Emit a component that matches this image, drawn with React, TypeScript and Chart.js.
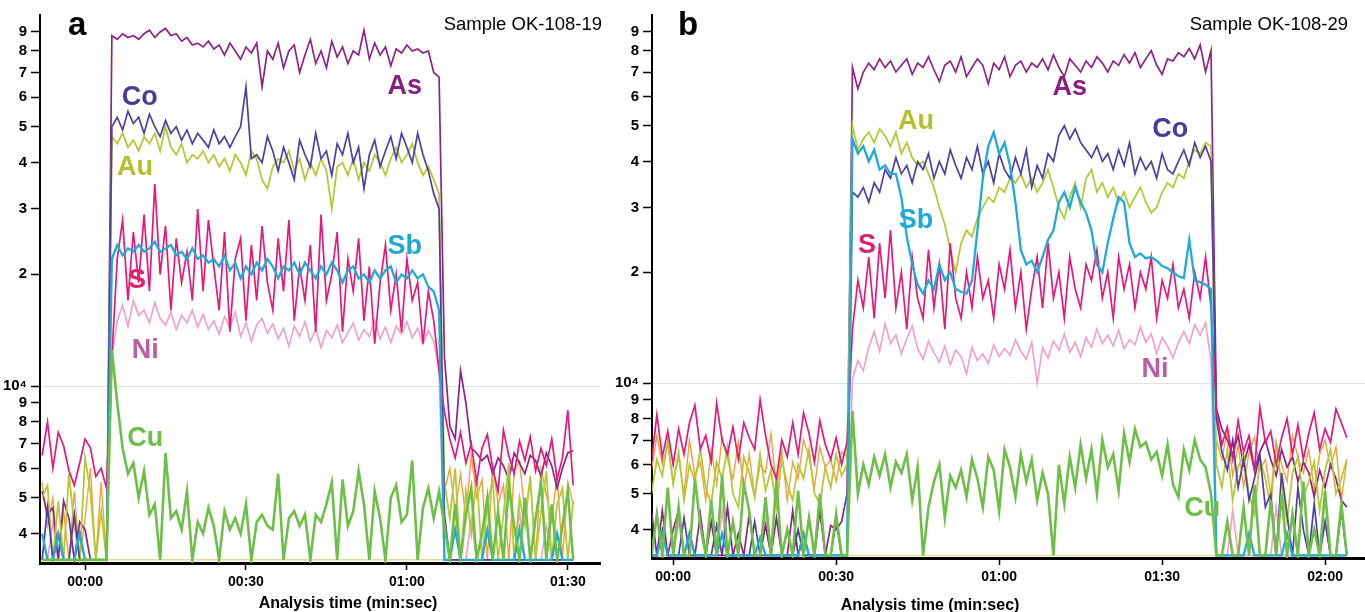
import React, { useEffect, useRef } from 'react';
import { Chart, registerables } from 'chart.js';

Chart.register(...registerables);

// ---------- axes (signal in thousands of counts, time in seconds) ----------
const yTickValues = [4, 5, 6, 7, 8, 9, 10, 20, 30, 40, 50, 60, 70, 80, 90];
const yTickLabels = ['4', '5', '6', '7', '8', '9', '10⁴', '2', '3', '4', '5', '6', '7', '8', '9'];
const xTicksA = [0, 30, 60, 90];
const xTickLabelsA = ['00:00', '00:30', '01:00', '01:30'];
const xTicksB = [0, 30, 60, 90, 120];
const xTickLabelsB = ['00:00', '00:30', '01:00', '01:30', '02:00'];

// one sweep per second
const startA = -8; // pre: -8..4, plateau: 5..66, post: 67..91
const postStartA = 67;
const startB = -4; // pre: -4..32, plateau: 33..99, post: 100..124
const postStartB = 100;
const floorLevel = 3.4;

// ---------- panel a : Sample OK-108-19 ----------
const asA_pre = [5.2, 4.5, 4.7, 3.4, 4.9, 4.4, 3.4, 4.3, 4.1, 3.4, 3.4, 3.4, 3.4];
const asA_plat = [
  88, 86, 89, 87, 88, 86, 89, 91, 87, 90,
  92, 88, 89, 85, 87, 83, 84, 82, 85, 81,
  83, 78, 84, 80, 76, 82, 79, 84, 64, 80,
  76, 84, 72, 80, 83, 70, 78, 86, 74, 80,
  72, 85, 77, 82, 74, 80, 78, 91, 76, 84,
  78, 82, 73, 81, 79, 83, 80, 81, 79, 80,
  70, 68];
const asA_post = [12, 7.8, 7.2, 11, 9, 6.8, 6.6, 6.3, 6.5, 5.8, 6.4, 6.1, 5.6, 6.6, 6.2, 5.8, 6.5, 6.3, 5.7, 6.6, 6.1, 5.3, 6.0, 6.6, 6.7];

const coA_pre = [3.4, 4.7, 3.4, 4.0, 3.4, 3.4, 4.5, 3.4, 3.4, 3.4, 3.4, 3.4, 3.4];
const coA_plat = [
  50, 53, 49, 55, 51, 53, 48, 54, 50, 47,
  52, 48, 50, 46, 49, 45, 48, 46, 44, 49,
  45, 47, 44, 47, 50, 64, 41, 42, 40, 47,
  43, 38, 44, 40, 36, 46, 42, 39, 48, 41,
  43, 37, 45, 42, 48, 40, 44, 34, 42, 46,
  39, 43, 47, 41, 48, 44, 40, 48, 42, 38,
  33, 30];
const coA_post = [4.5, 3.4, 3.4, 3.4, 3.4, 3.4, 3.4, 3.4, 3.4, 3.4, 3.4, 3.4, 3.4, 3.4, 3.4, 3.4, 3.4, 3.4, 3.4, 3.4, 3.4, 3.4, 3.4, 3.4, 3.4];

const auA_pre = [5.0, 5.4, 3.4, 4.9, 3.4, 5.8, 4.2, 3.4, 6.4, 5.2, 3.4, 4.6, 3.4];
const auA_plat = [
  47, 45, 48, 44, 46, 43, 47, 45, 48, 43,
  50, 44, 42, 45, 40, 42, 41, 43, 40, 42,
  39, 41, 38, 42, 40, 37, 43, 41, 36, 34,
  39, 41, 40, 43, 38, 41, 36, 40, 37, 41,
  38, 30, 39, 40, 37, 41, 36, 40, 38, 42,
  40, 37, 41, 44, 40, 42, 45, 40, 37, 39,
  36, 33];
const auA_post = [5.5, 4.4, 6.0, 3.4, 5.2, 4.0, 5.8, 3.4, 4.8, 5.6, 3.4, 4.5, 6.2, 3.4, 5.0, 4.2, 5.7, 3.4, 4.6, 5.9, 3.4, 4.8, 5.3, 3.4, 4.9];

const sbA_pre = [4.0, 3.4, 3.4, 4.0, 3.4, 3.4, 3.4, 4.0, 3.4, 3.4, 3.4, 3.4, 3.4];
const sbA_plat = [
  22, 24, 22.5, 23.5, 23, 24, 23, 23.5, 24.5, 23,
  23.5, 24, 22.5, 23, 22, 23.5, 22, 22.5, 21.5, 22,
  21, 22.5, 20.5, 21.5, 19.5, 21, 20, 21.5, 20.5, 22,
  21, 19.5, 21, 20.5, 21.5, 20, 21.5, 20.5, 19.5, 21,
  20, 21.5, 20.5, 19, 20.5, 21, 19.5, 20, 19, 20.5,
  19.5, 20.5, 21, 19, 20, 19.5, 20.5, 19.5, 20, 18.5,
  18, 16];
const sbA_post = [3.4, 3.4, 4.1, 3.4, 3.4, 3.4, 3.4, 3.4, 4.1, 3.4, 3.4, 3.4, 3.4, 3.4, 4.1, 3.4, 3.4, 3.4, 3.4, 3.4, 3.4, 4.0, 3.4, 3.4, 3.4];

const sA_pre = [6.5, 8.0, 6.0, 7.5, 6.9, 5.9, 5.4, 6.2, 7.2, 6.8, 5.7, 6.0, 5.3];
const sA_plat = [
  12, 22, 28, 17, 26, 19, 29, 18, 35, 20,
  27, 16, 25, 19, 23, 17, 30, 18, 28, 21,
  16, 26, 14, 22, 25, 15, 24, 17, 27, 19,
  16, 25, 18, 28, 15, 21, 17, 24, 14, 29,
  17, 20, 26, 14, 22, 18, 25, 15, 21, 13,
  19, 24, 16, 20, 14, 22, 17, 19, 13, 18,
  15, 11];
const sA_post = [8.5, 7.2, 6.4, 7.5, 6.2, 7.0, 5.5, 6.8, 7.4, 6.0, 5.2, 7.6, 6.5, 5.8, 7.1, 6.3, 7.3, 5.9, 6.8, 6.1, 7.2, 5.6, 6.4, 8.6, 5.4];

const niA_pre = [3.4, 3.4, 4.3, 3.4, 3.4, 3.4, 3.4, 4.0, 3.4, 3.4, 3.4, 3.4, 3.4];
const niA_plat = [
  12, 15, 16.5, 14.5, 17, 15.5, 16, 14.8, 16.8, 15.2,
  14.6, 15.8, 14.2, 15.5, 14.8, 16, 14.4, 15.6, 14.2, 15,
  13.8, 15.4, 14.4, 15.8, 13.6, 14.8, 13.2, 14.6, 15.2, 13.9,
  14.7, 13.4, 14.3, 12.8, 14.5, 13.6, 14.9, 13.2, 14.2, 12.7,
  14.1, 13.5, 14.6, 13.1, 13.9, 14.8, 13.3, 14.2, 13.6, 15,
  13.4, 14.4, 13.1, 14.5, 13.8, 14.9, 13.5, 14.3, 13.0, 14.1,
  13.2, 11];
const niA_post = [3.4, 3.4, 3.4, 3.4, 3.4, 4.4, 3.4, 3.4, 3.4, 3.4, 3.4, 3.4, 3.4, 3.4, 4.6, 3.4, 3.4, 3.4, 3.4, 4.2, 3.4, 3.4, 3.4, 3.4, 3.4];

const cuA_pre = [3.4, 3.4, 3.4, 3.4, 3.4, 3.4, 3.4, 3.4, 3.4, 3.4, 3.4, 3.4, 3.4];
const cuA_plat = [
  12.5, 9, 6.8, 5.8, 6.2, 5.0, 5.9, 4.5, 4.8, 3.4,
  6.6, 4.4, 4.6, 4.1, 5.2, 3.4, 4.3, 4.0, 4.7, 4.2,
  3.4, 4.6, 4.1, 4.4, 4.0, 4.8, 3.4, 4.3, 4.5, 4.2,
  4.1, 5.8, 3.4, 4.4, 4.6, 4.2, 4.5, 3.4, 4.5, 4.3,
  4.8, 5.5, 3.4, 5.6, 4.2, 4.6, 5.9, 4.8, 3.4, 5.2,
  4.4, 3.4, 5.0, 5.4, 4.3, 4.5, 6.3, 3.4, 4.7, 5.3,
  4.4, 5.2];
const cuA_post = [4.2, 3.4, 4.8, 3.4, 4.5, 5.3, 3.4, 4.0, 5.0, 3.4, 4.6, 3.4, 5.4, 4.2, 3.4, 5.0, 3.4, 4.4, 5.5, 3.4, 4.8, 3.4, 4.2, 5.2, 3.4];

const bgA_pre = [5.5, 4.2, 5.0, 3.4, 4.6, 3.4, 5.2, 3.4, 4.4, 6.0, 3.4, 5.5, 3.4];
const bgA_post = [5.2, 6.0, 4.6, 5.8, 4.4, 6.5, 5.0, 5.6, 3.4, 6.2, 4.8, 5.4, 3.4, 5.9, 6.3, 4.5, 5.6, 3.4, 6.0, 5.1, 4.3, 5.8, 3.4, 5.5, 4.8];

// ---------- panel b : Sample OK-108-29 ----------
const asB_pre = [
  4.5, 3.4, 4.5, 3.4, 4.0, 4.5, 3.4, 3.9, 3.4, 4.4,
  3.4, 4.2, 3.4, 3.4, 4.6, 3.4, 3.9, 3.4, 4.4, 3.4,
  3.4, 4.1, 3.4, 4.3, 3.4, 3.4, 4.5, 3.4, 3.9, 3.4,
  3.4, 4.5, 3.4, 4.1, 4.0, 4.2, 5.0];
const asB_plat = [
  72, 63, 70, 74, 71, 76, 72, 75, 70, 73,
  76, 69, 74, 72, 77, 71, 66, 73, 75, 70,
  77, 68, 72, 76, 73, 65, 74, 71, 77, 68,
  73, 75, 70, 74, 72, 76, 71, 78, 72, 68,
  76, 73, 70, 75, 72, 77, 74, 70, 75, 73,
  78, 74, 79, 72, 76, 80, 73, 69, 76, 75,
  79, 77, 81, 76, 83, 70, 80];
const asB_post = [8.5, 7.5, 7.0, 6.4, 7.2, 6.0, 6.8, 5.8, 6.5, 7.0, 6.2, 5.6, 6.6, 5.9, 6.3, 5.4, 6.1, 5.7, 4.9, 5.8, 5.2, 6.0, 5.5, 4.8, 4.6];

const coB_pre = [
  3.4, 3.4, 4.0, 3.4, 3.4, 3.4, 4.3, 3.4, 3.4, 3.4,
  3.4, 3.4, 4.1, 3.4, 3.4, 3.4, 3.4, 3.4, 3.4, 4.2,
  3.4, 3.4, 3.4, 3.4, 3.4, 3.4, 3.4, 4.0, 3.4, 3.4,
  3.4, 3.4, 3.4, 3.4, 4.2, 3.4, 3.4];
const coB_plat = [
  33, 32, 34, 31, 35, 33, 38, 36, 41, 37,
  39, 35, 40, 38, 42, 36, 40, 37, 43, 39,
  36, 41, 38, 44, 37, 40, 35, 42, 38, 36,
  41, 37, 43, 34, 39, 36, 42, 40, 47, 50,
  46, 49, 45, 43, 41, 44, 40, 42, 38, 43,
  39, 45, 37, 41, 38, 40, 36, 42, 38, 37,
  40, 43, 39, 45, 41, 44, 40];
const coB_post = [8.0, 6.5, 5.8, 7.0, 5.2, 6.2, 4.8, 5.5, 6.4, 4.6, 5.0, 3.4, 5.7, 4.4, 3.4, 5.2, 4.0, 3.4, 4.7, 3.4, 4.2, 3.4, 3.4, 4.5, 3.4];

const auB_pre = [
  5.0, 6.2, 5.6, 7.0, 5.3, 6.5, 4.8, 6.0, 5.4, 6.6,
  5.2, 4.7, 6.1, 5.5, 6.7, 5.0, 4.6, 6.3, 5.7, 4.9,
  6.4, 5.1, 5.8, 4.6, 6.2, 5.3, 4.8, 6.0, 5.5, 6.6,
  5.0, 4.7, 5.9, 5.2, 6.4, 5.6, 6.0];
const auB_plat = [
  50, 43, 46, 48, 45, 49, 47, 44, 48, 42,
  45, 41, 39, 40, 37, 34, 30, 27, 23, 20,
  24, 26, 25, 28, 30, 32, 31, 34, 33, 36,
  35, 37, 34, 36, 33, 35, 38, 34, 30, 28,
  32, 35, 30, 36, 38, 33, 35, 32, 34, 31,
  33, 30, 32, 34, 31, 29, 30, 33, 35, 34,
  37, 36, 40, 43, 42, 45, 44];
const auB_post = [6.0, 5.2, 6.6, 4.8, 5.9, 6.4, 5.0, 4.4, 6.2, 5.5, 4.6, 6.8, 5.3, 4.2, 5.7, 6.3, 4.9, 5.4, 6.1, 4.5, 5.8, 6.6, 5.0, 5.5, 6.2];

const sbB_pre = [
  3.4, 3.4, 3.9, 3.4, 3.4, 3.4, 3.4, 3.9, 3.4, 3.4,
  3.4, 3.4, 3.4, 3.9, 3.4, 3.4, 3.4, 3.4, 3.4, 3.4,
  3.8, 3.4, 3.4, 3.4, 3.4, 3.4, 3.4, 3.4, 3.9, 3.4,
  3.4, 3.4, 3.4, 3.4, 3.4, 3.4, 3.4];
const sbB_plat = [
  46, 42, 44, 40, 43, 38, 39, 37, 37, 32,
  25, 21, 18.5, 17.5, 19, 18, 21, 19, 20, 18,
  17.7, 17.5, 19, 26, 36, 44, 48, 42, 45, 39,
  31, 23, 21, 21.5, 20, 22, 24.5, 26, 31, 33,
  30, 34, 31, 29, 26, 21, 20, 24, 28, 32,
  31, 24, 22, 22.5, 21.8, 22, 21.5, 20.8, 20.5, 20,
  19.5, 19.3, 24.5, 19, 18.8, 18.5, 18];
const sbB_post = [3.4, 3.4, 3.4, 3.4, 3.4, 3.4, 3.9, 3.4, 3.4, 3.4, 3.4, 3.4, 3.4, 3.9, 3.4, 3.4, 3.4, 3.4, 3.4, 3.4, 3.4, 3.4, 3.4, 3.4, 3.4];

const sB_pre = [
  6.1, 8.2, 6.3, 7.4, 6.0, 7.5, 6.4, 7.8, 8.7, 6.6,
  7.2, 6.1, 8.8, 7.0, 6.4, 7.6, 6.2, 7.8, 7.1, 6.6,
  9.0, 7.2, 6.0, 5.5, 7.0, 6.3, 7.8, 6.4, 8.3, 7.3,
  6.1, 7.9, 6.8, 6.2, 7.1, 6.0, 6.9];
const sB_plat = [
  14, 19, 16, 22, 15, 24, 17, 26, 16, 20,
  14, 22, 17, 15, 23, 16, 21, 14, 24, 17,
  15, 20, 16, 22, 17, 19, 15, 21, 18, 23,
  16, 20, 14, 18, 22, 16, 24, 17, 20, 15,
  22, 18, 16, 21, 19, 23, 17, 20, 15, 22,
  18, 21, 16, 20, 18, 22, 15, 19, 17, 21,
  16, 18, 15, 20, 17, 22, 16];
const sB_post = [8.4, 6.8, 7.6, 6.2, 7.9, 6.5, 7.2, 5.8, 8.6, 6.9, 7.4, 6.0, 7.1, 8.0, 6.4, 7.7, 6.2, 7.3, 8.3, 6.6, 7.5, 6.9, 8.5, 7.8, 7.1];

const niB_pre = [
  3.4, 4.4, 3.4, 3.4, 3.4, 4.2, 3.4, 3.4, 3.4, 3.4,
  3.4, 3.4, 3.4, 4.5, 3.4, 3.4, 3.4, 3.4, 3.4, 3.4,
  3.4, 4.3, 3.4, 3.4, 3.4, 3.4, 3.4, 3.4, 3.4, 3.4,
  3.4, 4.6, 3.4, 3.4, 3.4, 3.4, 3.4];
const niB_plat = [
  10.3, 11.5, 10.8, 12.5, 13.8, 12.2, 14.5, 12.8, 13.5, 12.0,
  13.2, 14.3, 12.4, 11.6, 13.0, 12.1, 11.4, 12.6, 11.2, 12.3,
  11.8, 10.6, 12.5, 11.5, 12.0, 11.3, 12.7, 11.8, 12.4, 11.9,
  13.1, 12.2, 11.6, 12.9, 10.0, 12.5, 11.7, 13.0, 12.3, 13.6,
  12.1, 12.9, 11.8, 13.3, 12.5, 14.0, 12.8, 13.5, 12.6, 13.9,
  12.4, 13.1, 12.7, 14.2, 12.9, 13.6, 12.0, 13.3, 12.6, 11.7,
  12.9, 13.8, 12.8, 14.4, 13.5, 14.6, 11.5];
const niB_post = [3.4, 3.4, 3.4, 4.5, 3.4, 3.4, 3.4, 3.4, 3.4, 3.4, 3.4, 4.6, 3.4, 3.4, 3.4, 3.4, 3.4, 3.4, 3.4, 3.4, 4.2, 3.4, 3.4, 3.4, 3.4];

const cuB_pre = [
  3.4, 4.4, 3.4, 5.2, 3.4, 4.6, 3.4, 3.4, 5.5, 4.1,
  3.4, 4.8, 3.4, 5.6, 3.4, 4.2, 3.4, 5.3, 4.5, 3.4,
  3.4, 4.9, 3.4, 5.4, 3.4, 4.0, 3.4, 5.1, 3.4, 4.3,
  3.4, 5.0, 3.4, 3.4, 4.4, 3.4, 3.4];
const cuB_plat = [
  8.4, 5.0, 6.0, 5.3, 6.3, 5.6, 6.4, 5.2, 6.1, 5.7,
  6.4, 4.8, 5.9, 3.4, 4.6, 5.4, 6.0, 4.3, 5.6, 5.2,
  5.8, 4.9, 6.2, 5.5, 4.6, 6.3, 5.8, 4.5, 6.6, 5.9,
  4.9, 6.4, 5.4, 6.2, 4.8, 5.7, 5.0, 3.4, 6.0, 4.7,
  6.3, 5.2, 6.8, 5.5, 6.6, 5.0, 7.0, 5.9, 6.4, 5.1,
  7.3, 6.1, 7.5, 6.7, 6.9, 6.2, 6.5, 5.6, 6.8, 5.3,
  4.9, 6.6, 5.8, 7.0, 6.2, 5.9, 5.0];
const cuB_post = [3.4, 3.4, 4.2, 3.4, 3.4, 4.6, 3.4, 5.3, 3.4, 3.4, 4.8, 3.4, 5.0, 3.4, 4.4, 3.4, 5.4, 3.4, 4.0, 3.4, 5.1, 3.4, 3.4, 4.7, 3.4];

const bgB_pre = [
  5.8, 7.2, 6.0, 6.8, 5.4, 6.3, 5.0, 7.0, 5.6, 6.1,
  4.8, 6.6, 5.3, 7.1, 6.2, 5.5, 6.9, 5.1, 6.4, 4.9,
  6.0, 5.7, 7.3, 5.2, 6.5, 4.8, 6.1, 5.5, 7.0, 6.3,
  5.2, 6.7, 5.9, 6.2, 5.4, 6.5, 6.3];
const bgB_post = [7.0, 6.2, 7.4, 5.6, 6.8, 5.2, 6.5, 7.1, 5.8, 6.2, 5.0, 6.9, 6.0, 5.4, 7.2, 6.3, 5.7, 6.6, 5.1, 6.4, 7.0, 5.9, 6.7, 4.8, 6.2];

// ---------- element labels (anchor in data coordinates: seconds, thousands of counts) ----------
const labelNames = ['As', 'Co', 'Au', 'Sb', 'S', 'Ni', 'Cu'];
const labelTimeA = [59.6, 10.2, 9.3, 59.6, 9.7, 11.2, 11.2];
const labelValueA = [64, 60, 38.7, 23.7, 19.3, 12.5, 7.2];
const labelTimeB = [73.0, 91.5, 44.7, 44.7, 35.7, 88.7, 97.4];
const labelValueB = [63.7, 48.7, 51.5, 27.7, 23.6, 10.9, 4.57];

// ---------- styles ----------
const lineColor: Record<string, string> = {
  As: '#8E2387', Co: '#4F3FA0', Au: '#B4C838', Sb: '#1FAAD8', S: '#E5197A', Ni: '#F0A2C8', Cu: '#6DBF47',
};
const labelColor: Record<string, string> = {
  As: '#8B1E7E', Co: '#4A3B9B', Au: '#AFC22C', Sb: '#1DA9D6', S: '#E2206A', Ni: '#BA5FA3', Cu: '#6DBF47',
};
const lineWidth: Record<string, number> = { As: 1.7, Co: 1.7, Au: 1.8, Sb: 2.3, S: 1.7, Ni: 1.7, Cu: 2.6 };
const FONT = "'Liberation Sans', Arial, sans-serif";

type Seg = { name: string; pre: number[]; plat: number[]; post: number[] };

const segA: Seg[] = [
  { name: 'Cu', pre: cuA_pre, plat: cuA_plat, post: cuA_post },
  { name: 'Sb', pre: sbA_pre, plat: sbA_plat, post: sbA_post },
  { name: 'S', pre: sA_pre, plat: sA_plat, post: sA_post },
  { name: 'Co', pre: coA_pre, plat: coA_plat, post: coA_post },
  { name: 'Au', pre: auA_pre, plat: auA_plat, post: auA_post },
  { name: 'As', pre: asA_pre, plat: asA_plat, post: asA_post },
  { name: 'Ni', pre: niA_pre, plat: niA_plat, post: niA_post },
];
const segB: Seg[] = [
  { name: 'Cu', pre: cuB_pre, plat: cuB_plat, post: cuB_post },
  { name: 'Sb', pre: sbB_pre, plat: sbB_plat, post: sbB_post },
  { name: 'S', pre: sB_pre, plat: sB_plat, post: sB_post },
  { name: 'Co', pre: coB_pre, plat: coB_plat, post: coB_post },
  { name: 'Au', pre: auB_pre, plat: auB_plat, post: auB_post },
  { name: 'As', pre: asB_pre, plat: asB_plat, post: asB_post },
  { name: 'Ni', pre: niB_pre, plat: niB_plat, post: niB_post },
];

type PanelSpec = {
  key: string;
  left: number;
  width: number;
  yAxisWidth: number;
  xAxisHeight: number;
  padRight: number;
  xMin: number;
  xMax: number;
  yMin: number;
  segs: Seg[];
  start: number;
  postStart: number;
  bgPre: number[];
  bgPost: number[];
  xTicks: number[];
  xTickLabels: string[];
  labelTime: number[];
  labelValue: number[];
  letter: string;
  letterX: number;
  sample: string;
  sampleRight: number;
  titleCenter: number;
  titleBaseline: number;
};

const panels: PanelSpec[] = [
  {
    key: 'a', left: 0, width: 610, yAxisWidth: 40, xAxisHeight: 49, padRight: 10,
    xMin: -8.4, xMax: 96, yMin: 3.334, segs: segA, start: startA, postStart: postStartA,
    bgPre: bgA_pre, bgPost: bgA_post, xTicks: xTicksA, xTickLabels: xTickLabelsA,
    labelTime: labelTimeA, labelValue: labelValueA,
    letter: 'a', letterX: 68, sample: 'Sample OK-108-19', sampleRight: 602,
    titleCenter: 348, titleBaseline: 608,
  },
  {
    key: 'b', left: 610, width: 758, yAxisWidth: 42, xAxisHeight: 54, padRight: 0,
    xMin: -3.9, xMax: 127.9, yMin: 3.346, segs: segB, start: startB, postStart: postStartB,
    bgPre: bgB_pre, bgPost: bgB_post, xTicks: xTicksB, xTickLabels: xTickLabelsB,
    labelTime: labelTimeB, labelValue: labelValueB,
    letter: 'b', letterX: 68, sample: 'Sample OK-108-29', sampleRight: 738,
    titleCenter: 320, titleBaseline: 610,
  },
];

function buildConfig(p: PanelSpec): any {
  const datasets: any[] = p.segs.map((s) => {
    const vals = s.pre.concat(s.plat, s.post);
    return {
      label: s.name,
      data: vals.map((v, i) => ({ x: p.start + i, y: v })),
      borderColor: lineColor[s.name],
      borderWidth: lineWidth[s.name],
      pointRadius: 0,
      tension: 0,
      fill: false,
    };
  });
  const lastT = p.postStart + p.bgPost.length - 1;
  datasets.push({
    label: 'other',
    data: p.bgPre
      .map((v, i) => ({ x: p.start + i, y: v as number | null }))
      .concat([{ x: p.start + p.bgPre.length, y: null }])
      .concat(p.bgPost.map((v, i) => ({ x: p.postStart + i, y: v }))),
    borderColor: '#F2A03A',
    borderWidth: 1.4,
    pointRadius: 0,
    spanGaps: false,
  });
  datasets.push({
    label: 'floor',
    data: [{ x: p.start, y: floorLevel }, { x: lastT, y: floorLevel }],
    borderColor: '#E3DA9A',
    borderWidth: 1.5,
    pointRadius: 0,
  });

  const annot = {
    id: 'annot_' + p.key,
    afterDraw(chart: any) {
      const ctx = chart.ctx as CanvasRenderingContext2D;
      const xs = chart.scales.x;
      const ys = chart.scales.y;
      ctx.save();
      // element labels
      ctx.font = `bold 27px ${FONT}`;
      ctx.textAlign = 'center';
      ctx.textBaseline = 'middle';
      labelNames.forEach((n, i) => {
        ctx.fillStyle = labelColor[n];
        ctx.fillText(n, xs.getPixelForValue(p.labelTime[i]), ys.getPixelForValue(p.labelValue[i]));
      });
      // panel letter
      ctx.fillStyle = '#000';
      ctx.textAlign = 'left';
      ctx.textBaseline = 'alphabetic';
      ctx.font = `bold 33px ${FONT}`;
      ctx.fillText(p.letter, p.letterX, 35);
      // sample name
      ctx.font = `18.5px ${FONT}`;
      ctx.textAlign = 'right';
      ctx.fillText(p.sample, p.sampleRight, 30);
      // axis title
      ctx.font = `bold 16px ${FONT}`;
      ctx.textAlign = 'center';
      ctx.fillText('Analysis time (min:sec)', p.titleCenter, p.titleBaseline);
      ctx.restore();
    },
  };

  return {
    type: 'line',
    data: { datasets },
    options: {
      animation: false,
      responsive: false,
      devicePixelRatio: 1,
      layout: { padding: { left: 0, right: p.padRight, top: 15, bottom: 0 } },
      plugins: { legend: { display: false }, tooltip: { enabled: false } },
      elements: { point: { radius: 0 }, line: { tension: 0 } },
      scales: {
        x: {
          type: 'linear',
          min: p.xMin,
          max: p.xMax,
          afterBuildTicks: (s: any) => {
            s.ticks = p.xTicks.map((v) => ({ value: v }));
          },
          afterFit: (s: any) => {
            s.height = p.xAxisHeight;
          },
          ticks: {
            autoSkip: false,
            maxRotation: 0,
            padding: 4,
            color: '#000',
            font: { family: FONT, size: 14, weight: 'bold' },
            callback: (v: any) => {
              const i = p.xTicks.indexOf(Number(v));
              return i >= 0 ? p.xTickLabels[i] : '';
            },
          },
          grid: { drawOnChartArea: false, tickLength: 7, tickColor: '#000', tickWidth: 1.5 },
          border: { color: '#000', width: 3 },
        },
        y: {
          type: 'logarithmic',
          min: p.yMin,
          max: 100,
          afterBuildTicks: (s: any) => {
            s.ticks = yTickValues.map((v) => ({ value: v }));
          },
          afterFit: (s: any) => {
            s.width = p.yAxisWidth;
          },
          ticks: {
            autoSkip: false,
            padding: 4,
            color: '#000',
            font: { family: FONT, size: 15, weight: 'bold' },
            callback: (v: any) => {
              const i = yTickValues.indexOf(Number(v));
              return i >= 0 ? yTickLabels[i] : '';
            },
          },
          grid: {
            drawOnChartArea: true,
            color: (c: any) => (c.tick && c.tick.value === 10 ? '#E2E2E2' : 'rgba(0,0,0,0)'),
            lineWidth: 1,
            tickLength: 9,
            tickColor: '#000',
            tickWidth: 1.5,
          },
          border: { color: '#000', width: 2 },
        },
      },
    },
    plugins: [annot],
  };
}

function Panel({ spec }: { spec: PanelSpec }) {
  const ref = useRef<HTMLCanvasElement | null>(null);
  useEffect(() => {
    if (!ref.current) return;
    const chart = new Chart(ref.current, buildConfig(spec));
    return () => chart.destroy();
  }, [spec]);
  return (
    <canvas
      ref={ref}
      width={spec.width}
      height={612}
      style={{ position: 'absolute', left: spec.left, top: 0, width: spec.width, height: 612 }}
    />
  );
}

export default function App() {
  useEffect(() => {
    document.body.style.margin = '0';
    document.body.style.overflow = 'hidden';
  }, []);
  return (
    <div
      style={{
        position: 'absolute', left: 0, top: 0, width: 1365, height: 612,
        overflow: 'hidden', background: '#fff',
      }}
    >
      {panels.map((p) => (
        <Panel key={p.key} spec={p} />
      ))}
    </div>
  );
}
